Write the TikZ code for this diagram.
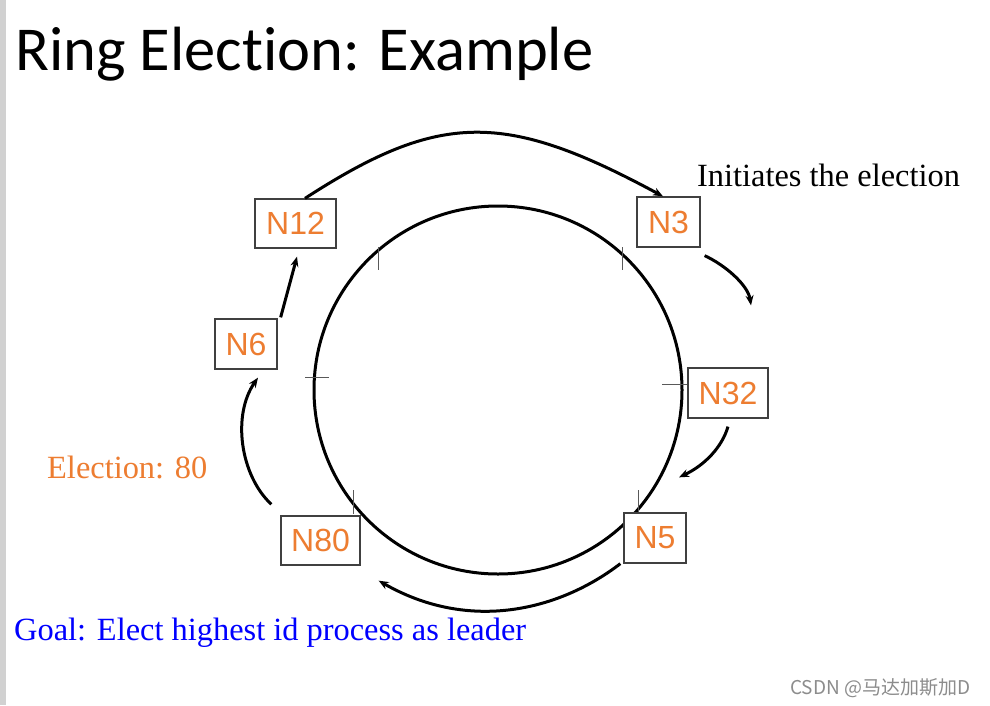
\documentclass[tikz,border=0pt]{standalone}
\usepackage{fontspec}
\setmainfont{Liberation Serif}
\newfontfamily\titlefont[Ligatures=NoCommon]{Carlito}
\newfontfamily\boxfont{Liberation Sans}
\newfontfamily\cjkfont{Noto Sans CJK SC}
\usetikzlibrary{arrows.meta,calc}
\definecolor{nodeorange}{HTML}{ED7D31}
\definecolor{boxgray}{HTML}{404040}
\begin{document}
\begin{tikzpicture}[x=1pt,y=-1pt,
  procbox/.style={draw=boxgray,line width=1.3pt,fill=white,rectangle,inner sep=0pt,
    text=nodeorange,font=\boxfont\fontsize{32}{32}\selectfont},
  ringarrow/.style={line width=3pt,-{Stealth[length=10pt,width=8pt]}},
  tickmark/.style={draw=black!65,line width=0.9pt},
  lbl/.style={anchor=base west,inner sep=0pt,font=\fontsize{32.4}{32.4}\selectfont}]
\useasboundingbox (0,0) rectangle (990,705);
\fill[white] (0,0) rectangle (990,705);
\fill[black!18] (0,0) rectangle (6,705);
% title
\node[anchor=base west,inner sep=0pt,font=\titlefont\fontsize{62.5}{62.5}\selectfont] (title) at (15,70) {Ring Election: Example};
% ring
\coordinate (c) at (498,390);
\draw[line width=3pt] (c) circle[radius=184];
% ticks
\draw[tickmark] (378,247) -- (378,270);
\draw[tickmark] (622,247) -- (622,270);
\draw[tickmark] (662,384) -- (687,384);
\draw[tickmark] (353,490) -- (353,514);
\draw[tickmark] (638,490) -- (638,514);
\draw[tickmark] (305,377) -- (329,377);
% process boxes
\node[procbox,minimum width=81pt,minimum height=49pt] (N12) at (295.5,223.5) {N12};
\node[procbox,minimum width=63pt,minimum height=50pt] (N3) at (668.5,222) {N3};
\node[procbox,minimum width=80pt,minimum height=50pt] (N32) at (728,393) {N32};
\node[procbox,minimum width=62pt,minimum height=50pt] (N5) at (655,538) {N5};
\node[procbox,minimum width=79pt,minimum height=49pt] (N80) at (320.5,540.5) {N80};
\node[procbox,minimum width=62pt,minimum height=50pt] (N6) at (246,344) {N6};
% arrow end points
\coordinate (a1s) at ($(N12.north)+(9.5,0)$);
\coordinate (a1e) at ($(N3.north)+(-5.5,0)$);
\coordinate (a2s) at ($(N3.south east)+(4,8)$);
\coordinate (a2e) at ($(N32.north)+(23,-62)$);
\coordinate (a3s) at ($(N32.south)+(0,8)$);
\coordinate (a3e) at ($(N5.north)+(24,-35)$);
\coordinate (a4s) at ($(N5.south west)+(-3,0)$);
\coordinate (a4e) at ($(N80.south east)+(18,15)$);
\coordinate (a5s) at ($(N80.north west)+(-9,-11)$);
\coordinate (a5e) at ($(N6.south)+(12,8)$);
\coordinate (a6s) at ($(N6.north east)+(3,-1)$);
\coordinate (a6e) at ($(N12.south)+(1.5,8)$);
% arrows
\draw[ringarrow] (a1s) .. controls (440,111) and (505,111) .. (a1e);
\draw[ringarrow] (a2s) .. controls (725,265) and (748,285) .. (a2e);
\draw[ringarrow] (a3s) .. controls (722,447) and (705,465) .. (a3e);
\draw[ringarrow] (a4s) .. controls (560,610) and (470,633) .. (a4e);
\draw[ringarrow] (a5s) .. controls (240,475) and (232,415) .. (a5e);
\draw[ringarrow] (a6s) -- (a6e);
% labels
\node[lbl] (init) at (697,186) {Initiates the election};
\node[lbl,text=nodeorange] (elect) at (47,478) {Election: 80};
\node[lbl,text=blue] (goal) at (14,640) {Goal: Elect highest id process as leader};
\node[anchor=base west,inner sep=0pt,text=black!45,font=\cjkfont\fontsize{19}{19}\selectfont] (wm) at (790,694) {CSDN @马达加斯加D};
\end{tikzpicture}
\end{document}
